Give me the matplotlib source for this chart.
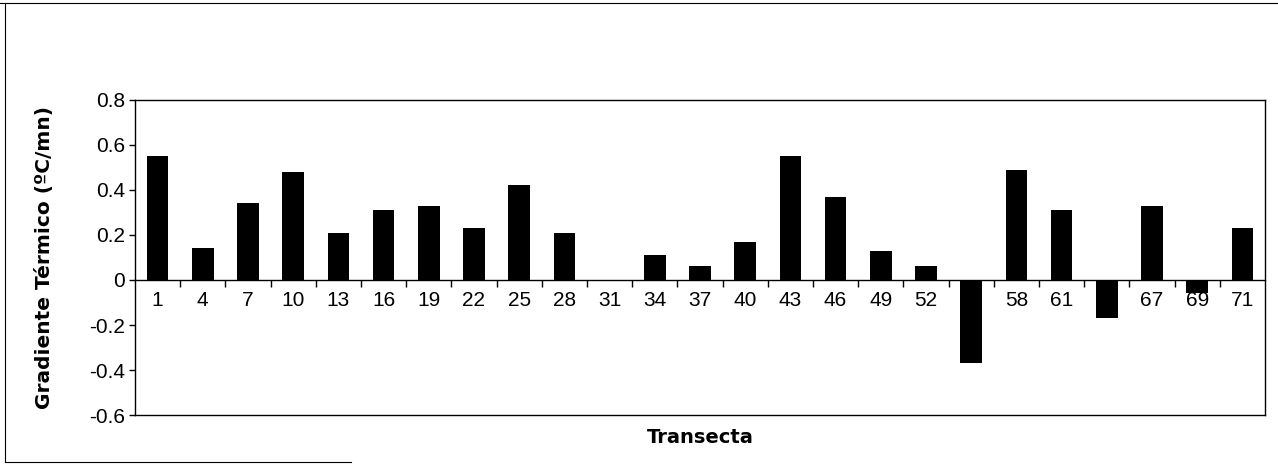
import matplotlib.pyplot as plt
from matplotlib.lines import Line2D
import numpy as np

plt.rcParams["font.family"] = ["Liberation Sans", "DejaVu Sans"]

transectas = ["1", "4", "7", "10", "13", "16", "19", "22", "25", "28", "31", "34",
              "37", "40", "43", "46", "49", "52", "55", "58", "61", "64", "67", "69", "71"]
gradiente = [0.55, 0.14, 0.34, 0.48, 0.21, 0.31, 0.33, 0.23, 0.42, 0.21, 0.0, 0.11,
             0.06, 0.17, 0.55, 0.37, 0.13, 0.06, -0.37, 0.49, 0.31, -0.17, 0.33, -0.06, 0.23]
y_ticks = [-0.6, -0.4, -0.2, 0, 0.2, 0.4, 0.6, 0.8]
y_labels = ["-0.6", "-0.4", "-0.2", "0", "0.2", "0.4", "0.6", "0.8"]


def main() -> None:
    fig = plt.figure(figsize=(12.78, 4.65), dpi=100)
    ax = fig.add_axes([0.1056, 0.1075, 0.8842, 0.6775])

    x = np.arange(len(transectas))
    ax.bar(x, gradiente, width=0.48, color="black", zorder=3)

    ax.set_xlim(-0.5, len(transectas) - 0.5)
    ax.set_ylim(-0.6, 0.8)
    ax.set_yticks(y_ticks)
    ax.set_yticklabels(y_labels, fontsize=15)
    ax.tick_params(axis="y", direction="out", length=4, width=1, pad=3)
    ax.set_xticks([])
    for spine in ax.spines.values():
        spine.set_linewidth(1.0)
        spine.set_color("black")

    # category axis drawn at y = 0 (Excel style)
    zero_pos = 0.6 / 1.4
    sec = ax.secondary_xaxis(zero_pos)
    sec.set_xticks(x)
    sec.set_xticklabels(transectas, fontsize=15)
    sec.set_xticks(x[:-1] + 0.5, minor=True)
    sec.tick_params(axis="x", which="major", length=0, pad=8)
    sec.tick_params(axis="x", which="minor", direction="out", length=5, width=1)
    sec.spines["bottom"].set_linewidth(1.0)

    ax.set_xlabel("Transecta", fontsize=14, fontweight="bold", labelpad=9,
                  family=["DejaVu Sans"])
    ax.set_ylabel("Gradiente Térmico (ºC/mn)", fontsize=14.5, fontweight="bold",
                  family=["DejaVu Sans"])
    ax.yaxis.set_label_coords(-0.072, 0.5)

    # outer frame of the chart area
    fig.add_artist(Line2D([0, 1], [0.994, 0.994], transform=fig.transFigure, color="black", lw=0.8))
    fig.add_artist(Line2D([0.004, 0.004], [0.006, 0.994], transform=fig.transFigure, color="black", lw=0.8))
    fig.add_artist(Line2D([0.004, 0.275], [0.006, 0.006], transform=fig.transFigure, color="black", lw=0.8))

    fig.savefig("out.png", dpi=100)


if __name__ == "__main__":
    main()
